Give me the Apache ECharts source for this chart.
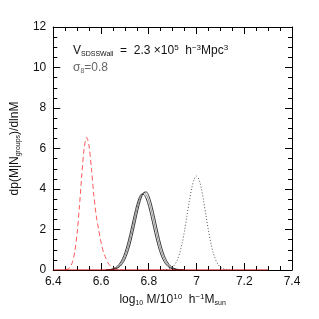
<!DOCTYPE html>
<html>
<head>
<meta charset="utf-8">
<script src="https://cdn.jsdelivr.net/npm/echarts@6/dist/echarts.min.js"></script>
<style>html,body{margin:0;padding:0;background:#fff}#c{width:319px;height:319px}</style>
</head>
<body>
<div id="c"></div>
<script>
// Red dashed curve
var redX = [6.45,6.46,6.47,6.48,6.49,6.50,6.51,6.52,6.53,6.54,6.55,6.56,6.57,6.58,6.59,6.60,6.61,6.62,6.63,6.64,6.65,6.66,6.67,6.68,6.69];
var redY = [0.01,0.04,0.13,0.37,0.89,1.82,3.19,4.76,6.05,6.55,6.12,4.98,3.69,2.69,2.0,1.38,0.89,0.59,0.34,0.20,0.11,0.06,0.03,0.01,0];
// Black solid curves
var blackX = [6.62,6.63,6.64,6.65,6.66,6.67,6.68,6.69,6.70,6.71,6.72,6.73,6.74,6.75,6.76,6.77,6.78,6.79,6.80,6.81,6.82,6.83,6.84,6.85,6.86,6.87,6.88,6.89,6.90,6.91,6.92,6.93,6.94,6.95];
var blackA = [0.006,0.014,0.029,0.059,0.112,0.202,0.345,0.558,0.855,1.242,1.709,2.228,2.751,3.217,3.566,3.744,3.723,3.508,3.132,2.649,2.122,1.610,1.158,0.788,0.509,0.311,0.180,0.099,0.051,0.025,0.012,0.005,0.002,0];
var blackB = [0.004,0.009,0.019,0.040,0.078,0.145,0.256,0.428,0.676,1.016,1.444,1.944,2.479,2.995,3.427,3.717,3.82,3.717,3.427,2.995,2.479,1.944,1.444,1.016,0.676,0.428,0.256,0.145,0.078,0.040,0.019,0.009,0.004,0];
var blackC = [0.002,0.005,0.012,0.026,0.053,0.102,0.185,0.320,0.524,0.812,1.192,1.658,2.184,2.726,3.224,3.611,3.832,3.853,3.670,3.312,2.831,2.293,1.759,1.277,0.880,0.574,0.355,0.208,0.115,0.060,0.030,0.014,0.006,0.002];
// Dotted curve
var dotX = [6.86,6.87,6.88,6.89,6.90,6.91,6.92,6.93,6.94,6.95,6.96,6.97,6.98,6.99,7.00,7.01,7.02,7.03,7.04,7.05,7.06,7.07,7.08,7.09,7.10,7.11,7.12,7.13,7.14];
var dotY = [0.005,0.013,0.032,0.070,0.145,0.281,0.506,0.851,1.334,1.95,2.67,3.40,4.04,4.48,4.64,4.48,4.04,3.40,2.67,1.95,1.334,0.851,0.506,0.281,0.145,0.070,0.032,0.013,0.005];
// Red baseline
var baseX = [6.40,7.30];
var baseY = [0,0];
// Axes
var xMin = 6.4, xMax = 7.4, xStep = 0.2;
var yMin = 0, yMax = 12, yStep = 2;

function zip(xs, ys){ return xs.map(function(x,i){ return [x, ys[i]]; }); }

var font = 'Liberation Sans, Arial, sans-serif';
var chart = echarts.init(document.getElementById('c'), null, {renderer:'canvas'});
var axisCommon = {
  axisLine:{show:true, onZero:false, lineStyle:{color:'#000', width:1}},
  axisTick:{show:true, inside:true, length:7, lineStyle:{color:'#000', width:1}},
  minorTick:{show:true, splitNumber:4, length:4, lineStyle:{color:'#000', width:1}},
  splitLine:{show:false}
};
chart.setOption({
  animation:false,
  backgroundColor:'#fff',
  grid:{left:49, right:27, top:27, bottom:49, containLabel:false},
  xAxis:[
    Object.assign({type:'value', min:xMin, max:xMax, interval:xStep, position:'bottom',
      axisLabel:{show:true, margin:6, color:'#111', fontSize:12, fontFamily:font,
        formatter:function(v){ return String(+v.toFixed(1)); }},
      name:'log{sub|10} M/10{sup|10}  h{sup|−1}M{sub|sun}', nameLocation:'middle', nameGap:13,
      nameTextStyle:{color:'#111', fontSize:12, fontFamily:font, lineHeight:14,
        rich:{sub:{fontSize:7, fontFamily:font, verticalAlign:'bottom', lineHeight:9},
              sup:{fontSize:8, fontFamily:font, verticalAlign:'top', lineHeight:8}}}
    }, axisCommon),
    Object.assign({type:'value', min:xMin, max:xMax, interval:xStep, position:'top', axisLabel:{show:false}}, axisCommon)
  ],
  yAxis:[
    Object.assign({type:'value', min:yMin, max:yMax, interval:yStep, position:'left',
      axisLabel:{show:true, margin:7, color:'#111', fontSize:12, fontFamily:font},
      name:'dp(M|N{sub|groups})/dlnM', nameLocation:'middle', nameGap:26, nameRotate:90,
      nameTextStyle:{color:'#111', fontSize:12, fontFamily:font, lineHeight:14,
        rich:{sub:{fontSize:7, fontFamily:font, verticalAlign:'bottom', lineHeight:9}}}
    }, axisCommon),
    Object.assign({type:'value', min:yMin, max:yMax, interval:yStep, position:'right', axisLabel:{show:false}}, axisCommon)
  ],
  graphic:[
    {type:'text', left:73, top:44, z:10, style:{
      text:'V{sub|SDSSWall}  =  2.3 ×10{sup|5}  h{sup|−3}Mpc{sup|3}',
      fill:'#111', fontSize:12, fontFamily:font, lineHeight:14,
      rich:{sub:{fontSize:7, fontFamily:font, verticalAlign:'bottom', lineHeight:9, fill:'#111'},
            sup:{fontSize:8, fontFamily:font, verticalAlign:'top', lineHeight:8, fill:'#111'}}}},
    {type:'text', left:73, top:61, z:10, style:{
      text:'σ{sub|8}=0.8', fill:'#666', fontSize:12, fontFamily:font, lineHeight:14,
      rich:{sub:{fontSize:7, fontFamily:font, verticalAlign:'bottom', lineHeight:9, fill:'#666'}}}}
  ],
  series:[
    {type:'line', data:zip(baseX, baseY), symbol:'none', lineStyle:{color:'#c00000', width:1}, z:5},
    {type:'line', data:zip(redX, redY), symbol:'none', smooth:0.3, lineStyle:{color:'#ff5a5a', width:1, type:[5,3]}},
    {type:'line', data:zip(blackX, blackA), symbol:'none', smooth:0.3, lineStyle:{color:'#222', width:0.9}},
    {type:'line', data:zip(blackX, blackB), symbol:'none', smooth:0.3, lineStyle:{color:'#444', width:0.6}},
    {type:'line', data:zip(blackX, blackC), symbol:'none', smooth:0.3, lineStyle:{color:'#222', width:0.9}},
    {type:'line', data:zip(dotX, dotY), symbol:'none', smooth:0.3, lineStyle:{color:'#555', width:1, type:[1,2]}}
  ]
});
</script>
</body>
</html>
